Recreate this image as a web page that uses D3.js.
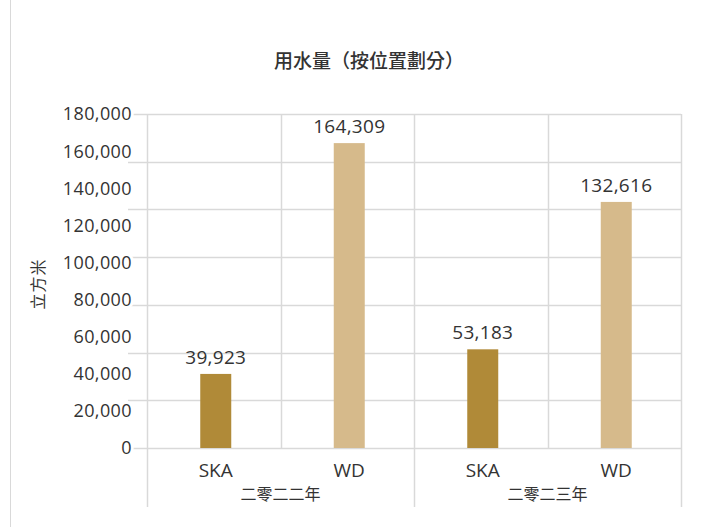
<!DOCTYPE html>
<html>
<head>
<meta charset="utf-8">
<script src="https://cdn.jsdelivr.net/npm/d3@7"></script>
<style>
  body { margin: 0; background: #fff; }
  text { font-family: "Open Sans", "Noto Sans CJK TC", sans-serif; fill: #333; }
</style>
</head>
<body>
<script>
// data
var categories = ["SKA", "WD", "SKA", "WD"];
var groups = ["二零二二年", "二零二三年"];
var values = [39923, 164309, 53183, 132616];
var tickValues = [0, 20000, 40000, 60000, 80000, 100000, 120000, 140000, 160000, 180000];
var gridCount = 7; // the original draws 7 grid intervals, not 9

var colors = ["#b08a38", "#d6ba8b", "#b08a38", "#d6ba8b"];

var width = 713, height = 527;
var plotLeft = 147, plotRight = 681, plotTop = 114, plotBase = 448, plotBottom = 507;

var svg = d3.select("body").append("svg")
  .attr("width", width)
  .attr("height", height);

// left border
svg.append("line")
  .attr("x1", 10.5).attr("x2", 10.5)
  .attr("y1", 0).attr("y2", height)
  .attr("stroke", "#d9d9d9").attr("stroke-width", 1);

var x = d3.scaleBand()
  .domain(d3.range(categories.length))
  .range([plotLeft, plotRight])
  .paddingInner(0).paddingOuter(0);

var y = d3.scaleLinear()
  .domain([0, 180000])
  .range([plotBase, plotTop]);

var grid = svg.append("g");

// horizontal gridlines
var gridVals = d3.range(gridCount + 1).map(function(i) { return i * 180000 / gridCount; });
grid.selectAll(".hg")
  .data(gridVals)
  .enter().append("line")
  .attr("x1", plotLeft - 19).attr("x2", plotRight)
  .attr("y1", function(d) { return Math.round(y(d)) + 0.5; })
  .attr("y2", function(d) { return Math.round(y(d)) + 0.5; })
  .attr("stroke", "#d9d9d9").attr("stroke-width", 1.5);

// vertical gridlines between categories
var bounds = d3.range(categories.length + 1).map(function(i) {
  return i < categories.length ? x(i) : x(i - 1) + x.bandwidth();
});
grid.selectAll(".vg")
  .data(bounds)
  .enter().append("line")
  .attr("x1", function(d) { return Math.round(d) + 0.5; })
  .attr("x2", function(d) { return Math.round(d) + 0.5; })
  .attr("y1", plotTop)
  .attr("y2", function(d, i) { return i % 2 === 0 ? plotBottom : plotBase; })
  .attr("stroke", "#d9d9d9").attr("stroke-width", 1.5);

// bars
svg.selectAll(".bar")
  .data(values)
  .enter().append("rect")
  .attr("x", function(d, i) { return x(i) + x.bandwidth() / 2 - 15.5 + 2; })
  .attr("width", 31)
  .attr("y", function(d) { return y(d); })
  .attr("height", function(d) { return plotBase - y(d); })
  .attr("fill", function(d, i) { return colors[i]; });

// value labels
svg.selectAll(".val")
  .data(values)
  .enter().append("text")
  .attr("x", function(d, i) { return x(i) + x.bandwidth() / 2 + 2; })
  .attr("y", function(d) { return y(d) - 10; })
  .attr("text-anchor", "middle")
  .attr("font-size", 19)
  .attr("letter-spacing", 0.3)
  .text(function(d) { return d3.format(",")(d); });

// y tick labels
svg.selectAll(".tick")
  .data(tickValues)
  .enter().append("text")
  .attr("x", 132)
  .attr("y", function(d) { return y(d); })
  .attr("dy", "0.36em")
  .attr("text-anchor", "end")
  .attr("font-size", 18)
  .attr("letter-spacing", 0.4)
  .attr("stroke", "#fff").attr("stroke-width", 6)
  .attr("paint-order", "stroke")
  .style("stroke-linejoin", "round")
  .text(function(d) { return d3.format(",")(d); });

// category labels
svg.selectAll(".cat")
  .data(categories)
  .enter().append("text")
  .attr("x", function(d, i) { return x(i) + x.bandwidth() / 2 + 2; })
  .attr("y", 477)
  .attr("text-anchor", "middle")
  .attr("font-size", 19)
  .text(function(d) { return d; });

// group labels
svg.selectAll(".grp")
  .data(groups)
  .enter().append("text")
  .attr("x", function(d, i) { return (x(i * 2) + x(i * 2 + 1) + x.bandwidth()) / 2; })
  .attr("y", 500)
  .attr("text-anchor", "middle")
  .attr("font-size", 16)
  .text(function(d) { return d; });

// y axis title
svg.append("text")
  .attr("transform", "translate(44,284) rotate(-90)")
  .attr("text-anchor", "middle")
  .attr("font-size", 16)
  .attr("letter-spacing", 1)
  .text("立方米");

// title
svg.append("text")
  .attr("x", 369)
  .attr("y", 68)
  .attr("text-anchor", "middle")
  .attr("font-size", 19)
  .attr("font-weight", 500)
  .text("用水量（按位置劃分）");
</script>
</body>
</html>
